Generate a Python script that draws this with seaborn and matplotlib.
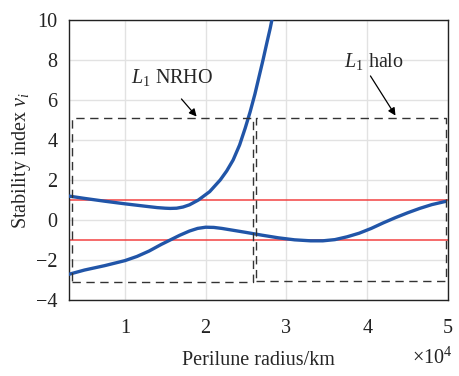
import matplotlib
matplotlib.use("Agg")
import matplotlib.pyplot as plt
import matplotlib.ticker as mticker
import seaborn as sns
import pandas as pd

# Data (x in 1e4 km)
upper_x = [0.30, 0.50, 0.75, 1.00, 1.25, 1.40, 1.50, 1.56, 1.64, 1.72, 1.80,
           1.91, 2.05, 2.18, 2.26, 2.34, 2.42, 2.49, 2.55, 2.61, 2.66, 2.71,
           2.76, 2.80, 2.82]
upper_y = [1.20, 1.08, 0.94, 0.81, 0.69, 0.62, 0.59, 0.58, 0.59, 0.65, 0.76,
           1.00, 1.42, 2.00, 2.45, 3.00, 3.75, 4.60, 5.40, 6.30, 7.15, 8.00,
           8.90, 9.60, 10.00]
lower_x = [0.30, 0.50, 0.75, 1.00, 1.15, 1.30, 1.45, 1.56, 1.68, 1.80, 1.90,
           2.00, 2.10, 2.20, 2.35, 2.50, 2.70, 2.90, 3.10, 3.30, 3.45, 3.60,
           3.75, 3.90, 4.05, 4.20, 4.35, 4.50, 4.65, 4.80, 4.97]
lower_y = [-2.72, -2.50, -2.28, -2.03, -1.82, -1.55, -1.22, -1.00, -0.76, -0.55,
           -0.42, -0.36, -0.37, -0.42, -0.52, -0.62, -0.76, -0.89, -0.99, -1.04,
           -1.04, -0.98, -0.84, -0.66, -0.42, -0.14, 0.12, 0.36, 0.58, 0.77, 0.93]
bounds_y = [1, -1]
nrho_box = [0.35, 2.58, -3.12, 5.08]
halo_box = [2.62, 4.97, -3.05, 5.08]
xticks = [1, 2, 3, 4, 5]
yticks = [-4, -2, 0, 2, 4, 6, 8, 10]

sns.set_theme(style="whitegrid")
plt.rcParams['font.family'] = ['Liberation Serif', 'DejaVu Serif']
plt.rcParams['mathtext.fontset'] = 'custom'
plt.rcParams['mathtext.rm'] = 'Liberation Serif'
plt.rcParams['mathtext.it'] = 'Liberation Serif:italic'

FS = 14.5

fig = plt.figure(figsize=(4.59, 3.76), dpi=100)
ax = fig.add_axes([0.150, 0.202, 0.826, 0.745])

df_u = pd.DataFrame({"x": [v * 1e4 for v in upper_x], "y": upper_y})
df_l = pd.DataFrame({"x": [v * 1e4 for v in lower_x], "y": lower_y})

for b in bounds_y:
    ax.axhline(b, color="#f24242", lw=1.1, zorder=2)
sns.lineplot(data=df_u, x="x", y="y", ax=ax, color="#2155a8", lw=2.4, zorder=3, sort=False)
sns.lineplot(data=df_l, x="x", y="y", ax=ax, color="#2155a8", lw=2.4, zorder=3, sort=False)

for (x0, x1, y0, y1) in (nrho_box, halo_box):
    ax.plot([x0 * 1e4, x1 * 1e4, x1 * 1e4, x0 * 1e4, x0 * 1e4], [y0, y0, y1, y1, y0],
            color="#333333", lw=1.0, ls=(0, (6, 4)), zorder=4)

arrow = dict(arrowstyle="-|>", color="black", lw=0.9, mutation_scale=11,
             shrinkA=0, shrinkB=0)
ax.annotate("", xy=(1.888e4, 5.17), xytext=(1.70e4, 6.05), arrowprops=arrow)
ax.text(1.59e4, 7.1, r"$L_1$ NRHO", fontsize=FS, ha="center", va="center")
ax.annotate("", xy=(4.35e4, 5.22), xytext=(4.04e4, 7.2), arrowprops=arrow)
ax.text(4.08e4, 7.9, r"$L_1$ halo", fontsize=FS, ha="center", va="center")

ax.set_xlim(0.306e4, 5.0e4)
ax.set_ylim(-4, 10)
ax.set_xticks([t * 1e4 for t in xticks])
ax.set_xticklabels([str(t) for t in xticks])
ax.set_yticks(yticks)
ax.set_yticklabels([str(t).replace("-", "\u2212") for t in yticks])

ax.set_xlabel("Perilune radius/km", fontsize=FS, labelpad=9)
ax.set_ylabel(r"Stability index $v_i$", fontsize=FS, labelpad=2)
ax.tick_params(direction="in", length=4, width=0.9, color="#222222", labelsize=FS,
               colors="#222222", pad=8)
ax.tick_params(axis="x", pad=14)
ax.text(1.011, -0.207, r"$\times\mathregular{10^4}$", transform=ax.transAxes,
        ha="right", va="center", fontsize=FS, color="#222222")
ax.grid(True, color="#e2e2e2", lw=1.0)
for s in ax.spines.values():
    s.set_visible(True)
    s.set_color("#222222")
    s.set_linewidth(1.0)
ax.set_facecolor("white")

fig.savefig("out.png", dpi=100)
